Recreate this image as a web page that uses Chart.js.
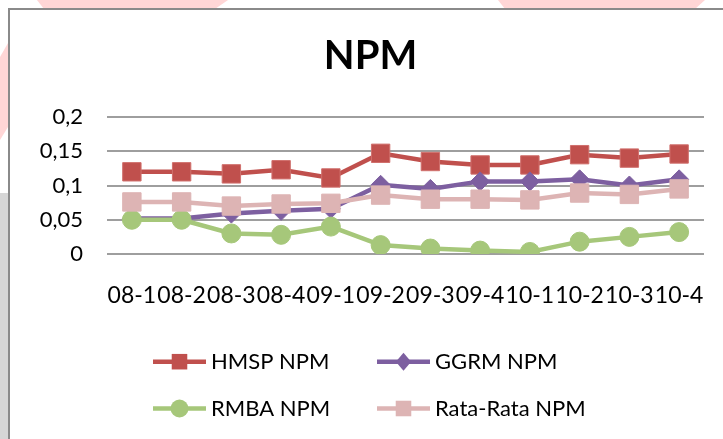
<!DOCTYPE html>
<html>
<head>
<meta charset="utf-8">
<script src="https://cdn.jsdelivr.net/npm/chart.js"></script>
<style>
  html, body { margin: 0; padding: 0; width: 723px; height: 439px; overflow: hidden; background: #ffffff; }
  #bg { position: absolute; left: 0; top: 0; }
  #box { position: absolute; left: 8px; top: 8px; width: 740px; height: 460px; background: #ffffff;
         border-left: 2px solid #8a8a8a; border-top: 2px solid #8a8a8a; }
  #wrap { position: absolute; left: 10px; top: 10px; width: 724px; height: 429px; }
</style>
</head>
<body>
<svg id="bg" width="723" height="439">
  <polygon points="37,0 228,0 215,9 44,9" fill="#ffd6d6"/>
  <polygon points="0,57 8,43 8,127 0,140" fill="#ffd6d6"/>
  <polygon points="498,0 705,0 695,9 505,9" fill="#ffd6d6"/>
  <rect x="0" y="193" width="8" height="246" fill="#d6d6d6"/>
</svg>
<div id="box"></div>
<div id="wrap"><canvas id="c" width="724" height="429"></canvas></div>
<script>
const categories = ['08-1','08-2','08-3','08-4','09-1','09-2','09-3','09-4','10-1','10-2','10-3','10-4'];
const hmspNPM = [0.120,0.120,0.117,0.123,0.111,0.147,0.135,0.130,0.130,0.145,0.140,0.146];
const ggrmNPM = [0.052,0.052,0.059,0.063,0.066,0.101,0.095,0.106,0.106,0.109,0.100,0.109];
const rmbaNPM = [0.050,0.050,0.030,0.028,0.040,0.013,0.008,0.005,0.003,0.018,0.025,0.032];
const rataNPM = [0.076,0.076,0.070,0.073,0.074,0.086,0.080,0.080,0.079,0.089,0.087,0.095];
const seriesNames = ['HMSP NPM','GGRM NPM','RMBA NPM','Rata-Rata NPM'];
const yTickLabels = ['0','0,05','0,1','0,15','0,2'];
const chartTitle = 'NPM';

function drawMarker(ctx, style, x, y, r, color) {
  ctx.fillStyle = color;
  ctx.beginPath();
  if (style === 'rect') {
    const s = r * Math.SQRT1_2;
    ctx.rect(x - s, y - s, 2 * s, 2 * s);
  } else if (style === 'rectRot') {
    ctx.moveTo(x, y - r); ctx.lineTo(x + r * 0.85, y); ctx.lineTo(x, y + r); ctx.lineTo(x - r * 0.85, y); ctx.closePath();
  } else {
    ctx.arc(x, y, r, 0, Math.PI * 2);
  }
  ctx.fill();
}

const customLegend = {
  id: 'customLegend',
  afterDraw(chart) {
    const ctx = chart.ctx;
    const rowsY = [351.7, 398.5];
    const colX = [143, 367];
    ctx.save();
    chart.data.datasets.forEach((ds, i) => {
      const row = Math.floor(i / 2), col = i % 2;
      const y = rowsY[row], x0 = colX[col], x1 = x0 + 53;
      ctx.strokeStyle = ds.borderColor;
      ctx.lineWidth = ds.borderWidth;
      ctx.beginPath(); ctx.moveTo(x0, y); ctx.lineTo(x1, y); ctx.stroke();
      drawMarker(ctx, ds.pointStyle, (x0 + x1) / 2, y, ds.legendRadius, ds.pointBackgroundColor);
      ctx.fillStyle = '#000000';
      ctx.font = '22px Lato';
      ctx.textBaseline = 'middle';
      ctx.textAlign = 'left';
      ctx.fillText(ds.label, x1 + 5, y);
    });
    ctx.restore();
  }
};

function build() {
  Chart.defaults.font.family = 'Lato';
  Chart.defaults.font.size = 22;
  Chart.defaults.color = '#000000';
  new Chart(document.getElementById('c'), {
    type: 'line',
    data: {
      labels: categories,
      datasets: [
        { label: seriesNames[0], data: hmspNPM, order: 4, borderColor: '#c0504d', borderWidth: 4.5,
          pointStyle: 'rect', pointRadius: 13, pointBackgroundColor: '#c0504d', pointBorderColor: '#d0706d', pointBorderWidth: 1, legendRadius: 11 },
        { label: seriesNames[1], data: ggrmNPM, order: 3, borderColor: '#7d5fa0', borderWidth: 4.5,
          pointStyle: 'rectRot', pointRadius: 9.5, pointBackgroundColor: '#7d5fa0', pointBorderColor: '#7d5fa0', pointBorderWidth: 1, legendRadius: 9 },
        { label: seriesNames[2], data: rmbaNPM, order: 2, borderColor: '#a6c77a', borderWidth: 4.5,
          pointStyle: 'circle', pointRadius: 9.5, pointBackgroundColor: '#a6c77a', pointBorderColor: '#a6c77a', pointBorderWidth: 1, legendRadius: 9 },
        { label: seriesNames[3], data: rataNPM, order: 1, borderColor: '#ddb4b4', borderWidth: 4.5,
          pointStyle: 'rect', pointRadius: 13, pointBackgroundColor: '#ddb4b4', pointBorderColor: '#ddb4b4', pointBorderWidth: 1, legendRadius: 11 }
      ]
    },
    options: {
      responsive: false,
      animation: false,
      devicePixelRatio: 1,
      layout: { padding: { left: 27, right: 30, top: 0, bottom: 136 } },
      plugins: {
        legend: { display: false },
        tooltip: { enabled: false },
        title: { display: true, text: chartTitle, color: '#000000',
                 font: { family: 'Lato', size: 40, weight: 'bold' },
                 padding: { top: 22, bottom: 37 } }
      },
      scales: {
        x: {
          offset: true,
          grid: { display: false, drawTicks: false, offset: true },
          border: { display: false },
          ticks: { padding: 28, maxRotation: 0, autoSkip: false, font: { size: 23 } },
          afterFit(scale) { scale.height = 49; }
        },
        y: {
          min: 0, max: 0.2,
          grid: { color: '#9e9e9e', lineWidth: 2, drawTicks: false },
          border: { display: false },
          ticks: { stepSize: 0.05, padding: 24, font: { size: 22 },
                   callback: (v, i) => yTickLabels[i] },
          afterFit(scale) { scale.width = 70; }
        }
      }
    },
    plugins: [customLegend]
  });
}
if (document.fonts && document.fonts.load) {
  Promise.all([document.fonts.load('22px Lato'), document.fonts.load('bold 40px Lato')]).then(build, build);
} else { build(); }
</script>
</body>
</html>
